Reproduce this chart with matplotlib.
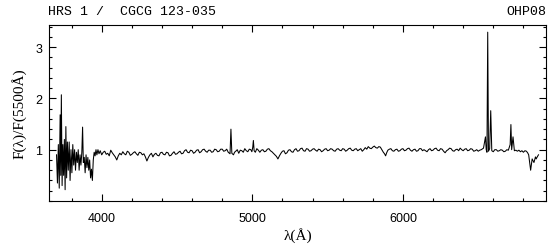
import numpy as np
import matplotlib.pyplot as plt
from matplotlib.ticker import MultipleLocator, FixedLocator

# Spectrum: (wavelength in A, flux normalised at 5500 A)
spectrum = [
    (3700, 0.90), (3706, 0.35), (3712, 1.10), (3718, 0.25), (3724, 1.68),
    (3728, 0.50), (3732, 2.07), (3737, 0.30), (3742, 1.10), (3747, 0.50),
    (3752, 1.20), (3757, 0.22), (3762, 1.45), (3767, 0.45), (3772, 1.15),
    (3778, 0.60), (3784, 1.15), (3790, 0.40), (3796, 1.00), (3802, 0.55),
    (3808, 1.10), (3814, 0.70), (3820, 1.00), (3826, 0.60), (3832, 0.95),
    (3838, 0.75), (3844, 1.00), (3850, 0.60), (3856, 0.90), (3862, 0.70),
    (3868, 0.95), (3873, 1.44), (3878, 0.75), (3884, 0.85), (3890, 0.55),
    (3896, 0.90), (3902, 0.65), (3908, 0.85), (3914, 0.60), (3920, 0.80),
    (3926, 0.45), (3932, 0.62), (3938, 0.40), (3944, 0.80), (3950, 0.95),
    (3956, 0.88), (3962, 1.00), (3968, 0.90), (3975, 1.00), (3982, 0.92),
    (3990, 0.98),
    (4000, 0.90), (4010, 0.95), (4020, 0.97), (4030, 0.91), (4040, 0.93),
    (4050, 0.88), (4060, 0.99), (4070, 0.94), (4080, 0.90), (4090, 0.86),
    (4100, 0.80), (4110, 0.88), (4120, 0.93), (4130, 0.90), (4140, 0.96),
    (4150, 0.92), (4160, 0.90), (4170, 0.97), (4180, 0.95), (4190, 0.89),
    (4200, 0.91), (4210, 0.94), (4220, 0.96), (4230, 0.92), (4240, 0.89),
    (4250, 0.95), (4260, 0.94), (4270, 0.90), (4280, 0.92), (4290, 0.86),
    (4300, 0.78), (4310, 0.85), (4320, 0.90), (4330, 0.93), (4340, 0.86),
    (4350, 0.91), (4360, 0.93), (4370, 0.89), (4380, 0.88), (4390, 0.94),
    (4400, 0.95), (4410, 0.91), (4420, 0.90), (4430, 0.95), (4440, 0.94),
    (4450, 0.88), (4460, 0.89), (4470, 0.93), (4480, 0.96), (4490, 0.91),
    (4500, 0.92), (4510, 0.95), (4520, 0.97), (4530, 0.92), (4540, 0.93),
    (4550, 0.98), (4560, 1.00), (4570, 0.95), (4580, 0.94), (4590, 0.99),
    (4600, 0.98), (4610, 0.93), (4620, 0.95), (4630, 0.99), (4640, 1.00),
    (4650, 0.94), (4660, 0.96), (4670, 1.00), (4680, 1.01), (4690, 0.97),
    (4700, 0.95), (4710, 0.99), (4720, 0.99), (4730, 0.95), (4740, 0.96),
    (4750, 1.01), (4760, 1.00), (4770, 0.96), (4780, 0.97), (4790, 1.01),
    (4800, 1.01), (4810, 0.97), (4820, 0.98), (4830, 1.01), (4840, 0.95),
    (4852, 0.92), (4858, 1.40), (4864, 0.93), (4875, 0.90), (4882, 0.95),
    (4890, 0.97), (4900, 1.00), (4910, 0.93), (4920, 0.99), (4930, 0.98),
    (4940, 0.95), (4950, 1.02), (4960, 0.98), (4970, 0.96), (4980, 1.01),
    (4990, 1.00), (4997, 0.96), (5003, 1.05), (5007, 1.18), (5012, 0.98),
    (5020, 0.95), (5030, 1.02), (5040, 0.99), (5050, 0.95), (5060, 0.99),
    (5070, 1.00), (5080, 0.96), (5090, 0.97), (5100, 1.01), (5110, 1.02),
    (5120, 0.98), (5130, 0.96), (5140, 0.93), (5150, 0.90), (5160, 0.87),
    (5170, 0.82), (5180, 0.88), (5190, 0.93), (5200, 0.97), (5210, 0.98),
    (5220, 0.92), (5230, 0.94), (5240, 0.99), (5250, 1.00), (5260, 0.96),
    (5270, 0.95), (5280, 1.00), (5290, 1.02), (5300, 0.97), (5310, 0.98),
    (5320, 1.02), (5330, 1.03), (5340, 0.98), (5350, 0.97), (5360, 1.02),
    (5370, 1.01), (5380, 0.97), (5390, 0.98), (5400, 1.01), (5410, 1.02),
    (5420, 0.99), (5430, 0.97), (5440, 1.01), (5450, 1.00), (5460, 0.96),
    (5470, 0.98), (5480, 1.01), (5490, 1.02), (5500, 0.98), (5510, 0.99),
    (5520, 1.02), (5530, 1.01), (5540, 0.98), (5550, 0.97), (5560, 1.01),
    (5570, 1.02), (5580, 0.99), (5590, 0.98), (5600, 1.02), (5610, 1.01),
    (5620, 0.97), (5630, 0.99), (5640, 1.02), (5650, 1.03), (5660, 0.99),
    (5670, 0.98), (5680, 1.01), (5690, 1.02), (5700, 0.98), (5710, 1.00),
    (5720, 1.02), (5730, 0.97), (5740, 1.00), (5750, 1.04), (5760, 1.01),
    (5770, 1.06), (5780, 1.03), (5790, 1.02), (5800, 1.05), (5810, 1.07),
    (5820, 1.04), (5830, 1.03), (5840, 1.06), (5850, 1.05), (5860, 1.00),
    (5870, 0.95), (5878, 0.92), (5885, 0.88), (5892, 0.94), (5900, 0.99),
    (5910, 1.01), (5920, 1.02), (5930, 0.98), (5940, 0.97), (5950, 1.00),
    (5960, 1.01), (5970, 0.97), (5980, 0.98), (5990, 1.01), (6000, 1.02),
    (6010, 0.98), (6020, 0.99), (6030, 1.02), (6040, 1.03), (6050, 0.99),
    (6060, 0.97), (6070, 1.00), (6080, 1.01), (6090, 0.97), (6100, 0.98),
    (6110, 1.02), (6120, 1.02), (6130, 0.98), (6140, 1.00), (6150, 0.98),
    (6160, 0.96), (6170, 1.00), (6180, 1.02), (6190, 0.98), (6200, 0.99),
    (6210, 1.02), (6220, 1.03), (6230, 0.99), (6240, 0.98), (6250, 1.02),
    (6260, 1.01), (6270, 0.97), (6280, 0.94), (6290, 0.98), (6300, 1.00),
    (6310, 1.03), (6320, 1.02), (6330, 0.98), (6340, 0.97), (6350, 1.00),
    (6360, 1.01), (6370, 0.98), (6380, 1.03), (6390, 1.00), (6400, 0.98),
    (6410, 1.01), (6420, 1.02), (6430, 0.98), (6440, 0.99), (6450, 1.02),
    (6460, 1.01), (6470, 0.97), (6480, 0.98), (6490, 1.00), (6500, 0.97),
    (6510, 0.99), (6520, 1.00), (6535, 1.03), (6548, 1.25), (6553, 1.00),
    (6558, 0.95), (6563, 3.29), (6568, 0.97), (6576, 1.02), (6583, 1.76),
    (6590, 0.98), (6600, 0.96), (6610, 1.00), (6620, 1.00), (6630, 0.97),
    (6640, 0.98), (6650, 1.00), (6660, 0.99), (6670, 0.96), (6680, 0.97),
    (6690, 1.00), (6700, 0.99), (6712, 1.10), (6717, 1.49), (6722, 1.00),
    (6731, 1.25), (6740, 0.98), (6750, 0.99), (6760, 0.97), (6770, 0.99),
    (6780, 0.96), (6790, 0.98), (6800, 0.95), (6810, 0.98), (6820, 0.97),
    (6828, 0.94), (6835, 0.90), (6848, 0.60), (6858, 0.82), (6865, 0.78),
    (6870, 0.75), (6880, 0.86), (6885, 0.82), (6890, 0.85), (6900, 0.90),
]
wave = [p[0] for p in spectrum]
flux = [p[1] for p in spectrum]

title_left = "HRS 1 /  CGCG 123-035"
title_right = "OHP08"

mono = "Liberation Mono"
sans = "Liberation Sans"
serif = "Liberation Serif"

fig = plt.figure(figsize=(5.48, 2.51), dpi=100)
ax = fig.add_axes([49 / 548, 1 - 202 / 251, (546 - 49) / 548, (202 - 26) / 251])

ax.plot(wave, flux, color="black", lw=0.75)

ax.set_xlim(3650, 6950)
ax.set_ylim(0, 3.43)
ax.xaxis.set_major_locator(MultipleLocator(1000))
ax.xaxis.set_minor_locator(MultipleLocator(200))
ax.yaxis.set_major_locator(FixedLocator([1, 2, 3]))
ax.yaxis.set_minor_locator(MultipleLocator(0.2))
ax.tick_params(which="both", direction="in", top=True, right=True, width=0.8)
ax.tick_params(which="major", length=5, labelsize=9)
ax.tick_params(which="minor", length=2.5)
ax.tick_params(axis="x", which="major", pad=8)
ax.tick_params(axis="y", which="major", pad=5)
for lab in ax.get_xticklabels() + ax.get_yticklabels():
    lab.set_fontfamily(sans)
for s in ax.spines.values():
    s.set_linewidth(0.8)

ax.set_xlabel("λ(Å)", fontfamily=serif, fontsize=11, labelpad=2)
ax.set_ylabel("F(λ)/F(5500Å)", fontfamily=serif, fontsize=11, labelpad=6)

fig.text(48 / 548, 1 - 12 / 251, title_left, fontfamily=mono, fontsize=9.5,
         ha="left", va="center")
fig.text(546 / 548, 1 - 12 / 251, title_right, fontfamily=mono, fontsize=9.5,
         ha="right", va="center")

fig.savefig("out.png", dpi=100)
